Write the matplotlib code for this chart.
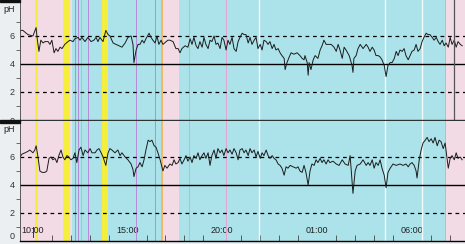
import matplotlib
matplotlib.use("Agg")
import matplotlib.pyplot as plt
import matplotlib.patches as mpatches
import numpy as np

plt.rcParams['font.family'] = ['Liberation Sans', 'DejaVu Sans']

# time in minutes relative to 10:00, pH values
t_top = [-41, -32, -16, 0, 10, 13, 19, 25, 32, 38, 48, 54, 60, 67, 73, 79, 86, 92, 101, 111,
         117, 127, 133, 143, 149, 155, 165, 174, 184, 193, 200, 206, 212, 222, 231, 238, 244, 254, 263, 273,
         282, 292, 301, 311, 317, 320, 327, 333, 339, 346, 352, 358, 368, 374, 380, 387, 393, 399, 406, 412,
         422, 428, 434, 444, 453, 460, 466, 472, 482, 491, 498, 504, 510, 517, 523, 529, 536, 542, 548, 555,
         561, 567, 574, 580, 586, 593, 599, 605, 612, 618, 624, 631, 637, 644, 650, 656, 663, 669, 675, 682,
         688, 694, 701, 707, 713, 720, 726, 732, 739, 745, 751, 758, 764, 770, 777, 783, 789, 796, 799, 805,
         812, 818, 827, 837, 846, 853, 859, 862, 869, 872, 875, 881, 888, 894, 903, 910, 916, 922, 929, 935,
         945, 954, 961, 967, 973, 980, 986, 992, 1002, 1011, 1014, 1017, 1024, 1030, 1037, 1046, 1056, 1062, 1068, 1075,
         1081, 1087, 1094, 1100, 1106, 1113, 1119, 1125, 1132, 1138, 1145, 1151, 1157, 1163, 1170, 1176, 1182, 1189, 1195, 1201,
         1208, 1214, 1220, 1227, 1233, 1239, 1246, 1252, 1258, 1265, 1271, 1278, 1284, 1290, 1297, 1303, 1309, 1316, 1322, 1328,
         1335, 1341, 1347, 1354, 1360]
ph_top = [6.4, 6.4, 6.1, 6.0, 6.6, 5.9, 4.9, 5.7, 5.5, 5.6, 5.6, 5.4, 5.7, 4.8, 5.1, 4.9, 5.2, 5.1, 5.4, 5.6,
          5.7, 5.6, 5.8, 5.9, 5.7, 5.9, 5.6, 5.9, 5.6, 5.7, 5.9, 5.6, 5.9, 5.6, 6.4, 6.1, 6.0, 5.5, 5.4, 5.3,
          5.2, 5.5, 5.9, 6.0, 5.4, 4.1, 5.0, 5.4, 5.4, 5.7, 5.5, 5.8, 6.2, 5.9, 5.7, 5.5, 6.0, 5.4, 5.7, 5.4,
          5.6, 5.7, 5.7, 5.6, 5.1, 5.1, 4.8, 5.1, 5.3, 5.2, 5.8, 5.4, 5.9, 5.3, 5.1, 5.6, 5.2, 5.9, 5.4, 5.1,
          5.7, 5.6, 6.0, 5.4, 5.5, 5.1, 5.9, 5.7, 5.0, 5.7, 5.4, 5.9, 5.1, 4.9, 5.6, 5.9, 6.2, 6.1, 6.1, 5.5,
          5.9, 5.4, 5.7, 5.9, 5.1, 5.4, 5.0, 5.7, 5.6, 5.4, 5.6, 5.1, 5.4, 5.0, 5.1, 4.8, 4.6, 4.4, 3.6, 4.1,
          4.5, 4.8, 4.7, 4.8, 4.6, 4.4, 4.3, 4.6, 4.1, 3.2, 4.1, 3.6, 4.3, 4.6, 4.4, 5.0, 5.3, 5.7, 5.4, 5.4,
          5.4, 5.2, 4.9, 5.4, 5.0, 4.4, 5.2, 5.0, 4.6, 3.9, 3.4, 4.4, 4.6, 5.1, 5.4, 5.1, 5.4, 5.2, 4.9, 5.2,
          5.0, 4.6, 4.6, 4.5, 4.3, 3.9, 3.1, 3.9, 4.1, 4.1, 4.4, 4.9, 4.6, 5.0, 4.9, 5.1, 4.6, 4.3, 4.6, 4.9,
          5.0, 5.4, 4.9, 5.1, 5.6, 5.9, 6.2, 6.1, 6.1, 5.9, 5.7, 5.9, 5.6, 5.4, 5.7, 5.3, 5.5, 5.2, 5.9, 5.4,
          5.7, 5.2, 5.6, 5.4, 5.3]

t_bot = [-41, -35, -25, -16, -10, 0, 6, 10, 16, 22, 29, 38, 44, 51, 57, 63, 70, 76, 82, 89,
         95, 101, 108, 114, 120, 127, 133, 139, 146, 152, 159, 165, 174, 181, 187, 197, 203, 209, 216, 222,
         228, 231, 238, 244, 250, 260, 269, 276, 282, 292, 301, 311, 317, 320, 327, 333, 339, 346, 352, 358,
         365, 371, 377, 384, 390, 396, 403, 412, 418, 425, 434, 441, 447, 453, 460, 466, 472, 479, 485, 491,
         498, 504, 510, 517, 523, 529, 536, 542, 548, 555, 561, 567, 574, 580, 586, 593, 599, 605, 612, 618,
         624, 631, 637, 644, 650, 656, 663, 669, 675, 682, 688, 694, 701, 707, 713, 720, 726, 732, 739, 745,
         751, 758, 764, 770, 777, 783, 789, 796, 802, 808, 815, 824, 834, 840, 846, 853, 859, 865, 872, 878,
         884, 891, 897, 903, 910, 916, 922, 929, 935, 941, 951, 961, 970, 980, 989, 999, 1005, 1011, 1014, 1021,
         1027, 1037, 1046, 1056, 1062, 1068, 1075, 1081, 1087, 1094, 1100, 1106, 1113, 1119, 1125, 1132, 1141, 1151, 1163, 1173,
         1182, 1189, 1195, 1201, 1208, 1214, 1217, 1224, 1230, 1236, 1243, 1249, 1255, 1262, 1268, 1274, 1281, 1287, 1293, 1300,
         1306, 1312, 1316, 1322, 1328, 1335, 1341, 1347, 1354, 1360]
ph_bot = [6.0, 6.2, 6.3, 6.4, 6.5, 6.3, 6.5, 6.8, 6.0, 5.0, 4.9, 4.9, 5.0, 5.9, 6.0, 5.8, 5.9, 5.6, 6.1, 6.5,
          6.0, 5.8, 6.1, 6.0, 5.8, 5.9, 6.3, 5.6, 6.5, 6.7, 6.1, 6.5, 6.3, 6.6, 6.3, 6.3, 6.5, 6.6, 6.3, 6.0,
          5.6, 5.4, 6.3, 6.6, 6.5, 6.3, 6.5, 6.1, 6.3, 6.0, 5.8, 5.5, 5.1, 4.6, 5.2, 5.3, 5.6, 5.3, 5.8, 6.5,
          7.2, 7.1, 7.2, 6.8, 6.7, 6.3, 5.8, 5.0, 5.4, 5.2, 5.5, 5.4, 5.8, 5.5, 5.6, 5.9, 5.5, 5.8, 6.1, 5.7,
          6.0, 5.6, 6.1, 5.9, 6.3, 5.8, 6.1, 6.3, 5.9, 6.3, 5.4, 6.1, 6.5, 5.9, 6.6, 6.3, 6.5, 6.1, 6.6, 6.3,
          6.5, 6.2, 6.6, 6.3, 5.8, 6.5, 6.6, 6.3, 6.5, 6.1, 6.6, 6.3, 6.5, 6.0, 6.4, 5.9, 6.3, 6.1, 6.5, 6.1,
          5.9, 6.1, 5.9, 5.8, 5.5, 5.4, 5.2, 4.7, 5.3, 5.2, 5.4, 5.3, 5.2, 5.3, 5.0, 4.9, 5.4, 4.9, 4.0, 5.0,
          5.5, 5.4, 5.8, 5.6, 5.9, 5.6, 5.8, 5.5, 5.8, 5.6, 5.7, 5.5, 5.4, 5.8, 5.5, 5.4, 6.1, 4.3, 3.4, 5.0,
          5.4, 5.5, 5.8, 5.4, 5.6, 5.4, 5.8, 5.2, 5.6, 5.4, 5.8, 5.2, 4.7, 3.8, 4.9, 5.2, 5.5, 5.4, 5.5, 5.4,
          5.5, 5.3, 5.5, 5.6, 5.4, 5.0, 4.5, 5.8, 6.5, 7.0, 7.2, 7.4, 7.1, 7.3, 7.0, 7.4, 6.8, 7.2, 7.1, 6.6,
          7.0, 5.9, 5.2, 5.9, 6.1, 5.8, 6.3, 5.9, 6.0, 5.8]

# background periods (start, end in minutes from 10:00)
pink_spans = [(-41, 95), (117, 124), (412, 463), (1306, 1369)]
blue_spans = [(124, 406), (463, 1306)]
yellow_spans = [(6, 16), (95, 117), (219, 238)]
orange_spans = [(406, 412)]
purple_marks = [133, 143, 174, 327, 387]
pink_marks = [152, 495, 612, 1306]
white_marks = [716, 1116, 1233]
event_mark = 1335

hour_labels = ['10:00', '15:00', '20:00', '01:00', '06:00']
label_pos = [0, 300, 600, 900, 1200]

t_min, t_max = -41, 1369
ph_max = 8.57

fig = plt.figure(figsize=(4.65, 2.44), dpi=100)
fig.patch.set_facecolor('#eceff1')

ax_top = fig.add_axes([20 / 465, 124 / 244, 445 / 465, 120 / 244])
ax_bot = fig.add_axes([20 / 465, 3 / 244, 445 / 465, 120 / 244])

for ax, t, ph in [(ax_top, t_top, ph_top), (ax_bot, t_bot, ph_bot)]:
    for a, b in pink_spans:
        ax.axvspan(a, b, color='#f3dbe6', lw=0)
    for a, b in blue_spans:
        ax.axvspan(a, b, color='#ace3eb', lw=0)
    for a, b in yellow_spans:
        ax.axvspan(a, b, color='#f6ee3c', lw=0)
    for a, b in orange_spans:
        ax.axvspan(a, b, color='#f2b866', lw=0)
    for m in purple_marks:
        ax.axvline(m, color='#b98ad6', lw=0.7)
    for m in pink_marks:
        ax.axvline(m, color='#e6a2d2', lw=0.7)
    for m in white_marks:
        ax.axvline(m, color='#f4f8f8', lw=1.0)

    ax.axhline(4, color='black', lw=1.0)
    ax.axhline(2, color='black', lw=0.9, ls=(0, (3, 3)))
    ax.axhline(6, color='black', lw=0.9, ls=(0, (3, 3)))
    ax.plot(t, ph, color='#1c1c1c', lw=0.7)

    ax.set_xlim(t_min, t_max)
    ax.set_ylim(0, ph_max)
    ax.set_yticks([0, 2, 4, 6])
    ax.set_yticks([1, 3, 5, 7], minor=True)
    ax.tick_params(axis='y', which='major', length=0, labelsize=6.5, colors='#333333', pad=4)
    ax.tick_params(axis='y', which='minor', length=3, width=0.6, color='#555555')
    for s in ['top', 'right']:
        ax.spines[s].set_visible(False)
    ax.spines['left'].set_color('#444444')
    ax.spines['left'].set_linewidth(0.6)

ax_top.spines['bottom'].set_color('#2c3434')
ax_top.spines['bottom'].set_linewidth(1.0)
ax_top.set_xticks([])
ax_top.axvline(event_mark, color='#555555', lw=0.9)

ax_bot.spines['bottom'].set_color('black')
ax_bot.spines['bottom'].set_linewidth(1.0)
ax_bot.set_xticks(label_pos)
ax_bot.set_xticklabels(hour_labels)
ax_bot.set_xticks(np.arange(60, 1369, 60), minor=True)
ax_bot.tick_params(axis='x', which='major', direction='in', length=0, pad=-11,
                   labelsize=6.5, colors='#222222')
ax_bot.tick_params(axis='x', which='minor', direction='in', length=4, width=0.6, color='#444444')
ax_bot.axvline(0, ymin=0.03, ymax=0.12, color='#333333', lw=0.7)
# bottom "0" label sits on the figure edge; nudge it up so it stays readable
ax_bot.get_yticklabels()[0].set_verticalalignment('bottom')

fig.text(3 / 465, 1 - 10 / 244, 'pH', fontsize=6.5, color='#222222', va='center')
fig.text(3 / 465, 1 - 130 / 244, 'pH', fontsize=6.5, color='#222222', va='center')
fig.patches.append(mpatches.Rectangle((0, 1 - 2 / 244), 20 / 465, 2 / 244,
                                      transform=fig.transFigure, color='#111111'))
fig.patches.append(mpatches.Rectangle((0, 1 - 123 / 244), 20 / 465, 3 / 244,
                                      transform=fig.transFigure, color='#111111'))

fig.savefig('out.png', dpi=100, facecolor=fig.get_facecolor())
